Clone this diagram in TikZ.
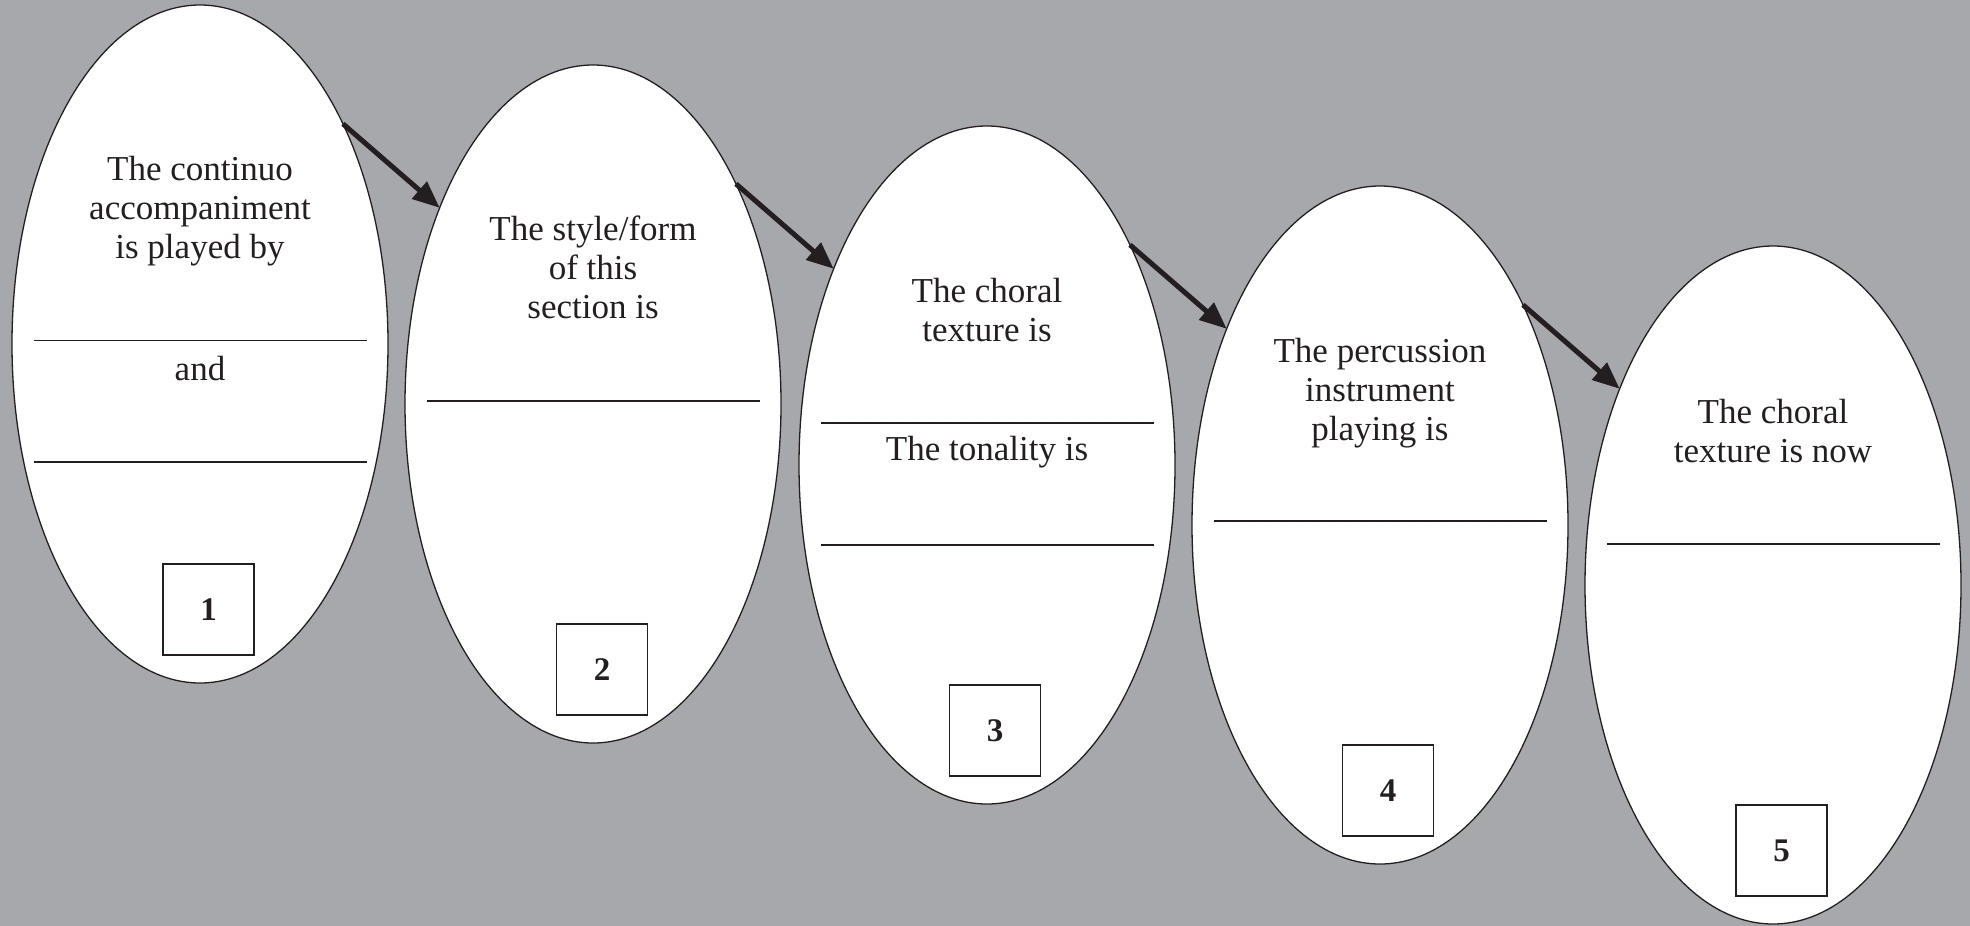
\documentclass[tikz,border=0pt]{standalone}
\usepackage{fontspec}
\setmainfont{Liberation Serif}
\usetikzlibrary{shapes.geometric,arrows.meta}
\definecolor{bggray}{RGB}{167,168,172}
\definecolor{ink}{RGB}{35,31,32}
\begin{document}
\begin{tikzpicture}[x=1pt,y=-1pt,
  oval/.style={ellipse,draw=ink,fill=white,line width=1.3pt,minimum width=376pt,minimum height=678pt,inner sep=0pt,outer sep=0pt},
  label/.style={align=center,text=ink,font=\fontsize{35}{39}\selectfont,inner sep=0pt},
  numbox/.style={draw=ink,line width=1.4pt,fill=white,minimum size=91pt,inner sep=0pt,text=ink,font=\fontsize{33}{36}\selectfont\bfseries},
  rule/.style={draw=ink,line width=1.2pt},
  flow/.style={draw=ink,line width=5pt,-{Triangle[length=27pt,width=22pt]}}]
\fill[bggray] (0,0) rectangle (1970,926);
\useasboundingbox (0,0) rectangle (1970,926);
% ovals
\node[oval] (e1) at (200,344) {};
\node[oval] (e2) at (593,404) {};
\node[oval] (e3) at (987,465) {};
\node[oval] (e4) at (1380,525) {};
\node[oval] (e5) at (1773,585) {};
% oval 1
\node[label] (t1) at ([shift={(0,-133)}]e1.center) {The continuo\\accompaniment\\is played by};
\draw[rule] ([shift={(-166,-3.5)}]e1.center) -- ([shift={(167,-3.5)}]e1.center);
\node[label] (t1b) at ([shift={(0,24.5)}]e1.center) {and};
\draw[rule] ([shift={(-166,118)}]e1.center) -- ([shift={(167,118)}]e1.center);
\node[numbox] (b1) at ([shift={(8.5,265.5)}]e1.center) {1};
% oval 2
\node[label] (t2) at ([shift={(0,-136.5)}]e2.center) {The style/form\\of this\\section is};
\draw[rule] ([shift={(-166,-3)}]e2.center) -- ([shift={(167,-3)}]e2.center);
\node[numbox] (b2) at ([shift={(9,265.5)}]e2.center) {2};
% oval 3
\node[label] (t3) at ([shift={(0,-155)}]e3.center) {The choral\\texture is};
\draw[rule] ([shift={(-166,-42)}]e3.center) -- ([shift={(167,-42)}]e3.center);
\node[label] (t3b) at ([shift={(0,-12.5)}]e3.center) {The tonality is};
\draw[rule] ([shift={(-166,80)}]e3.center) -- ([shift={(167,80)}]e3.center);
\node[numbox] (b3) at ([shift={(8,265.5)}]e3.center) {3};
% oval 4
\node[label] (t4) at ([shift={(0,-132)}]e4.center) {The percussion\\instrument\\playing is};
\draw[rule] ([shift={(-166,-4)}]e4.center) -- ([shift={(167,-4)}]e4.center);
\node[numbox] (b4) at ([shift={(8,265.5)}]e4.center) {4};
% oval 5
\node[label] (t5) at ([shift={(0,-154)}]e5.center) {The choral\\texture is now};
\draw[rule] ([shift={(-166,-41)}]e5.center) -- ([shift={(167,-41)}]e5.center);
\node[numbox] (b5) at ([shift={(8.6,265.5)}]e5.center) {5};
% arrows
\draw[flow] (e1.57) -- (e2.128);
\draw[flow] (e2.57) -- (e3.128);
\draw[flow] (e3.57) -- (e4.128);
\draw[flow] (e4.57) -- (e5.128);
\end{tikzpicture}
\end{document}
